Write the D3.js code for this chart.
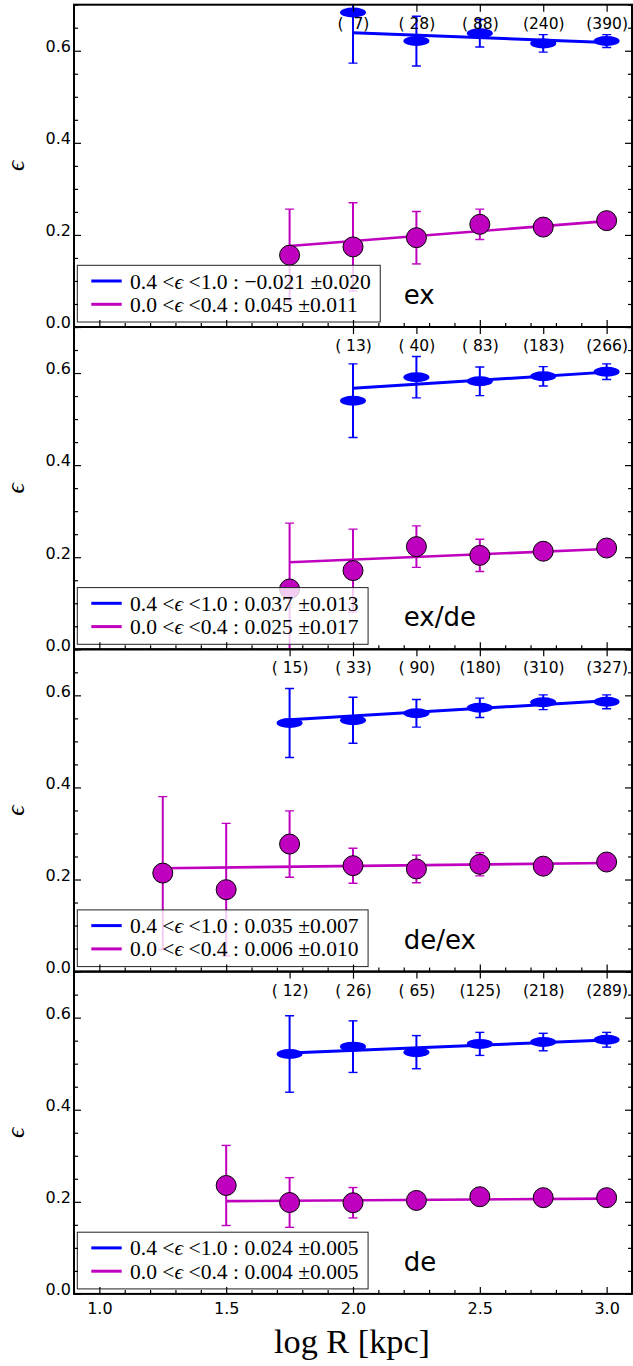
<!DOCTYPE html>
<html>
<head>
<meta charset="utf-8">
<script src="https://cdn.jsdelivr.net/npm/d3@7"></script>
<style>
  html, body { margin: 0; padding: 0; background: #fff; }
  svg { display: block; }
  text { white-space: pre; }
</style>
</head>
<body>
<script>
// ---------------- DATA ----------------
const panelLabels = ["ex", "ex/de", "de/ex", "de"];
const xTickValues = [1.0, 1.5, 2.0, 2.5, 3.0];
const yTickValues = [0.0, 0.2, 0.4, 0.6];

const blueX = [
  [2.0, 2.25, 2.5, 2.75, 3.0],
  [2.0, 2.25, 2.5, 2.75, 3.0],
  [1.75, 2.0, 2.25, 2.5, 2.75, 3.0],
  [1.75, 2.0, 2.25, 2.5, 2.75, 3.0]
];
const blueY = [
  [0.683, 0.621, 0.638, 0.616, 0.621],
  [0.540, 0.591, 0.582, 0.593, 0.603],
  [0.540, 0.546, 0.561, 0.573, 0.585, 0.586],
  [0.521, 0.537, 0.525, 0.543, 0.547, 0.552]
];
const blueErr = [
  [0.110, 0.054, 0.030, 0.019, 0.014],
  [0.080, 0.045, 0.031, 0.021, 0.017],
  [0.075, 0.050, 0.030, 0.021, 0.016, 0.015],
  [0.083, 0.056, 0.036, 0.025, 0.019, 0.016]
];
const counts = [
  [7, 28, 88, 240, 390],
  [13, 40, 83, 183, 266],
  [15, 33, 90, 180, 310, 327],
  [12, 26, 65, 125, 218, 289]
];
const magX = [
  [1.75, 2.0, 2.25, 2.5, 2.75, 3.0],
  [1.75, 2.0, 2.25, 2.5, 2.75, 3.0],
  [1.25, 1.5, 1.75, 2.0, 2.25, 2.5, 2.75, 3.0],
  [1.5, 1.75, 2.0, 2.25, 2.5, 2.75, 3.0]
];
const magY = [
  [0.156, 0.174, 0.194, 0.223, 0.217, 0.231],
  [0.131, 0.171, 0.223, 0.204, 0.213, 0.220],
  [0.214, 0.178, 0.277, 0.230, 0.223, 0.233, 0.229, 0.238],
  [0.2355, 0.1985, 0.198, 0.203, 0.211, 0.209, 0.209]
];
const magErr = [
  [0.100, 0.096, 0.057, 0.033, 0.012, 0.008],
  [0.143, 0.090, 0.045, 0.035, 0.012, 0.008],
  [0.166, 0.144, 0.072, 0.038, 0.030, 0.025, 0.012, 0.010],
  [0.087, 0.054, 0.033, 0.015, 0.010, 0.010, 0.008]
];
// fitted lines: [x0, x1] and [y0, y1]
const blueFitX = [[2.0, 3.0], [2.0, 3.0], [1.75, 3.0], [1.75, 3.0]];
const blueFitY = [[0.639, 0.618], [0.567, 0.602], [0.547, 0.588], [0.523, 0.5515]];
const magFitX = [[1.75, 3.0], [1.75, 3.0], [1.25, 3.0], [1.5, 3.0]];
const magFitY = [[0.176, 0.230], [0.189, 0.218], [0.2246, 0.236], [0.2015, 0.207]];

const blueRange = "0.4 <", blueRange2 = " <1.0 : ";
const magRange = "0.0 <", magRange2 = " <0.4 : ";
const blueSlopeText = ["\u22120.021 \u00b10.020", "0.037 \u00b10.013", "0.035 \u00b10.007", "0.024 \u00b10.005"];
const magSlopeText = ["0.045 \u00b10.011", "0.025 \u00b10.017", "0.006 \u00b10.010", "0.004 \u00b10.005"];

// ---------------- LAYOUT ----------------
const W = 633, H = 1366;
const LEFT = 74, RIGHT = 632;
const TOP0 = 4.7, PH = 322.3;
const BLUE = "#0000ff", MAG = "#bf00bf";
const SERIF = "'Liberation Serif', 'DejaVu Serif', serif";
const SANS = "'DejaVu Sans', sans-serif";

const svg = d3.select("body").append("svg").attr("width", W).attr("height", H);
const x = d3.scaleLinear().domain([0.9, 3.1]).range([LEFT, RIGHT]);

// calibrate legend font size
const probe = svg.append("text").attr("font-family", SERIF).attr("font-size", 20)
  .text("0.4 <\u03f5 <1.0 : \u22120.021 \u00b10.020");
const probeW = probe.node().getComputedTextLength();
probe.remove();
const legFont = 20 * 241 / probeW;

function styleAxis(sel) {
  sel.attr("font-family", SANS).attr("font-size", 16);
  sel.selectAll("text").attr("fill", "#000");
  sel.select(".domain").remove();
  sel.selectAll(".tick line").attr("stroke", "#000").attr("stroke-width", 1.2);
}

panelLabels.forEach((lab, i) => {
  const top = TOP0 + i * PH, bottom = top + PH;
  const y = d3.scaleLinear().domain([0, 0.7]).range([bottom, top]);
  const g = svg.append("g");

  const clipId = "clip" + i;
  svg.append("clipPath").attr("id", clipId).append("rect")
    .attr("x", LEFT).attr("y", top).attr("width", RIGHT - LEFT).attr("height", PH);
  const plot = g.append("g").attr("clip-path", `url(#${clipId})`);

  // fit lines
  const line = d3.line().x(d => x(d[0])).y(d => y(d[1]));
  plot.append("path").datum(d3.zip(magFitX[i], magFitY[i])).attr("d", line)
    .attr("fill", "none").attr("stroke", MAG).attr("stroke-width", 2.6);
  plot.append("path").datum(d3.zip(blueFitX[i], blueFitY[i])).attr("d", line)
    .attr("fill", "none").attr("stroke", BLUE).attr("stroke-width", 3);

  // error bars
  function errBars(xs, ys, es, color) {
    const data = d3.zip(xs, ys, es);
    const eg = plot.append("g").attr("stroke", color);
    eg.selectAll("line.v").data(data).join("line").attr("class", "v")
      .attr("x1", d => x(d[0])).attr("x2", d => x(d[0]))
      .attr("y1", d => y(d[1] - d[2])).attr("y2", d => y(d[1] + d[2]))
      .attr("stroke-width", 2);
    ["lo", "hi"].forEach(k => {
      eg.selectAll("line." + k).data(data).join("line").attr("class", k)
        .attr("x1", d => x(d[0]) - 4.5).attr("x2", d => x(d[0]) + 4.5)
        .attr("y1", d => y(k === "lo" ? d[1] - d[2] : d[1] + d[2]))
        .attr("y2", d => y(k === "lo" ? d[1] - d[2] : d[1] + d[2]))
        .attr("stroke-width", 1.4);
    });
  }
  errBars(magX[i], magY[i], magErr[i], MAG);
  errBars(blueX[i], blueY[i], blueErr[i], BLUE);

  // markers
  plot.selectAll("circle.m").data(d3.zip(magX[i], magY[i])).join("circle").attr("class", "m")
    .attr("cx", d => x(d[0])).attr("cy", d => y(d[1])).attr("r", 10)
    .attr("fill", MAG).attr("stroke", "#000").attr("stroke-width", 1);
  plot.selectAll("ellipse.b").data(d3.zip(blueX[i], blueY[i])).join("ellipse").attr("class", "b")
    .attr("cx", d => x(d[0])).attr("cy", d => y(d[1])).attr("rx", 13).attr("ry", 5)
    .attr("fill", BLUE);

  // panel label
  g.append("text").attr("x", x(2.2)).attr("y", y(0.05))
    .attr("font-family", SANS).attr("font-size", 26).attr("fill", "#000").text(lab);

  // legend
  const leg = g.append("g");
  const box = leg.append("rect").attr("x", 77.3).attr("y", bottom - 61.7)
    .attr("height", 56.7).attr("fill", "#fff").attr("fill-opacity", 0.8)
    .attr("stroke", "#222").attr("stroke-width", 1);
  const rows = [[BLUE, blueRange, blueRange2, blueSlopeText[i], bottom - 46],
                [MAG, magRange, magRange2, magSlopeText[i], bottom - 22.7]];
  let maxW = 0;
  rows.forEach(r => {
    leg.append("line").attr("x1", 91.3).attr("x2", 121.7).attr("y1", r[4]).attr("y2", r[4])
      .attr("stroke", r[0]).attr("stroke-width", 3);
    const t = leg.append("text").attr("x", 130).attr("y", r[4] + 7.5)
      .attr("font-family", SERIF).attr("font-size", legFont).attr("fill", "#000");
    t.append("tspan").text(r[1]);
    t.append("tspan").attr("font-style", "italic").text("\u03f5");
    t.append("tspan").text(r[2] + r[3]);
    maxW = Math.max(maxW, t.node().getComputedTextLength());
  });
  box.attr("width", 130 + maxW + 9.5 - 77.3);

  // axes: ticks inward
  const minorY = d3.range(0, 0.7001, 0.05).filter(v => Math.abs(v / 0.2 - Math.round(v / 0.2)) > 1e-6);
  const minorX = d3.range(9, 32).map(v => v / 10).filter(v => Math.abs(v * 2 - Math.round(v * 2)) > 1e-6);

  const la = g.append("g").attr("transform", `translate(${LEFT},0)`)
    .call(d3.axisLeft(y).tickValues(yTickValues).tickSize(-7).tickPadding(3).tickFormat(d3.format(".1f")));
  styleAxis(la);
  la.selectAll("text").attr("dy", "0.05em");
  styleAxis(g.append("g").attr("transform", `translate(${LEFT},0)`)
    .call(d3.axisLeft(y).tickValues(minorY).tickSize(-4).tickFormat("")));
  styleAxis(g.append("g").attr("transform", `translate(${RIGHT},0)`)
    .call(d3.axisRight(y).tickValues(yTickValues).tickSize(-7).tickFormat("")));
  styleAxis(g.append("g").attr("transform", `translate(${RIGHT},0)`)
    .call(d3.axisRight(y).tickValues(minorY).tickSize(-4).tickFormat("")));
  styleAxis(g.append("g").attr("transform", `translate(0,${bottom})`)
    .call(d3.axisBottom(x).tickValues(xTickValues).tickSize(-7).tickPadding(9)
      .tickFormat(i === 3 ? d3.format(".1f") : "")));
  styleAxis(g.append("g").attr("transform", `translate(0,${bottom})`)
    .call(d3.axisBottom(x).tickValues(minorX).tickSize(-4).tickFormat("")));
  const ta = g.append("g").attr("transform", `translate(0,${top})`)
    .call(d3.axisTop(x).tickValues(blueX[i]).tickSize(-7).tickPadding(-24)
      .tickFormat((d, j) => "(" + String(counts[i][j]).padStart(3, " ") + ")"));
  styleAxis(ta);
  ta.attr("font-size", 15.5);

  // frame
  g.append("rect").attr("x", LEFT).attr("y", top).attr("width", RIGHT - LEFT).attr("height", PH)
    .attr("fill", "none").attr("stroke", "#000").attr("stroke-width", 2);

  // y label
  g.append("text").attr("transform", `translate(24,${(top + bottom) / 2}) rotate(-90)`)
    .attr("text-anchor", "middle").attr("font-family", SERIF).attr("font-style", "italic")
    .attr("font-size", 26).attr("fill", "#000").text("\u03f5");
});

// x label
const xl = svg.append("text").attr("x", 352).attr("y", 1353).attr("text-anchor", "middle")
  .attr("font-family", SERIF).attr("font-size", 30).attr("fill", "#000").text("log R [kpc]");
const xlw = xl.node().getComputedTextLength();
xl.attr("font-size", 30 * 156 / xlw);
</script>
</body>
</html>
